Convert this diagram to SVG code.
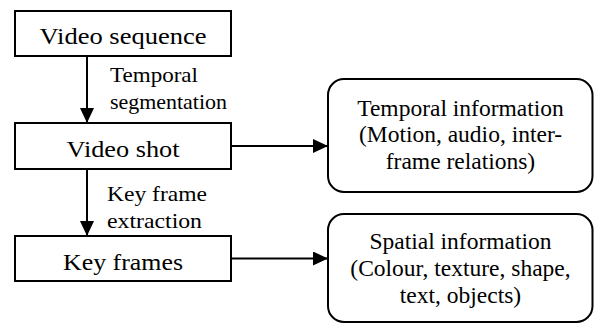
<svg xmlns="http://www.w3.org/2000/svg" width="594" height="324" viewBox="0 0 594 324" font-family="'Liberation Serif', 'DejaVu Serif', serif">
  <style>
    .box { fill: #fff; stroke: #000; stroke-width: 2; }
    .link { fill: none; stroke: #000; stroke-width: 2; }
    text { font-family: 'Liberation Serif', 'DejaVu Serif', serif; fill: #000; }
    .main { font-size: 24px; text-anchor: middle; }
    .lbl { font-size: 21px; }
    .info { font-size: 23.5px; text-anchor: middle; }
  </style>
  <defs>
    <marker id="arrow" viewBox="0 0 15 14" refX="15" refY="7" markerWidth="15" markerHeight="14" markerUnits="userSpaceOnUse" orient="auto">
      <path d="M0,0 L15,7 L0,14 Z" fill="#000"/>
    </marker>
  </defs>

  <g id="connectors">
    <line class="link" x1="87" y1="56" x2="87" y2="123" marker-end="url(#arrow)"/>
    <line class="link" x1="87" y1="169" x2="87" y2="236" marker-end="url(#arrow)"/>
    <line class="link" x1="231" y1="146" x2="328" y2="146" marker-end="url(#arrow)"/>
    <line class="link" x1="231" y1="258.5" x2="328" y2="258.5" marker-end="url(#arrow)"/>
    <text class="lbl" x="110" y="81.5" textLength="88" lengthAdjust="spacingAndGlyphs">Temporal</text>
    <text class="lbl" x="110" y="108.5" textLength="117" lengthAdjust="spacingAndGlyphs">segmentation</text>
    <text class="lbl" x="107" y="200.5" textLength="100" lengthAdjust="spacingAndGlyphs">Key frame</text>
    <text class="lbl" x="107" y="228" textLength="95" lengthAdjust="spacingAndGlyphs">extraction</text>
  </g>

  <g id="video-sequence">
    <rect class="box" x="15" y="11" width="216" height="45"/>
    <text class="main" x="123" y="43.5" textLength="167" lengthAdjust="spacingAndGlyphs">Video sequence</text>
  </g>

  <g id="video-shot">
    <rect class="box" x="15" y="123" width="216" height="46"/>
    <text class="main" x="123" y="156.5" textLength="113" lengthAdjust="spacingAndGlyphs">Video shot</text>
  </g>

  <g id="key-frames">
    <rect class="box" x="15" y="236" width="216" height="45"/>
    <text class="main" x="123" y="269.5" textLength="120" lengthAdjust="spacingAndGlyphs">Key frames</text>
  </g>

  <g id="temporal-information">
    <rect class="box" x="328" y="79" width="264.5" height="113" rx="16" ry="16"/>
    <text class="info" x="460.5" y="115.5">Temporal information</text>
    <text class="info" x="460.5" y="142">(Motion, audio, inter-</text>
    <text class="info" x="460.5" y="168.5">frame relations)</text>
  </g>

  <g id="spatial-information">
    <rect class="box" x="328" y="214" width="264.5" height="108" rx="16" ry="16"/>
    <text class="info" x="460.5" y="249">Spatial information</text>
    <text class="info" x="460.5" y="276">(Colour, texture, shape,</text>
    <text class="info" x="460.5" y="302.5">text, objects)</text>
  </g>
</svg>
